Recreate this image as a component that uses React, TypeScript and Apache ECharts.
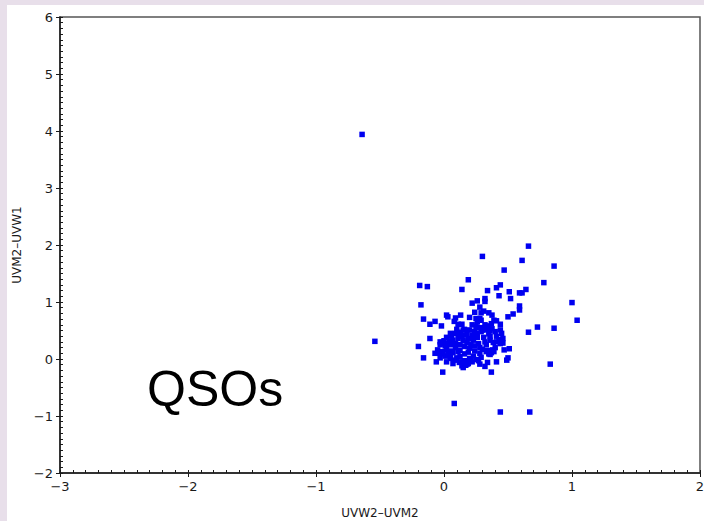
import React, { useEffect, useRef } from "react";
import * as echarts from "echarts";

const xMin = -3;
const xMax = 2;
const yMin = -2;
const yMax = 6;
const xName = "UVW2–UVM2";
const yName = "UVM2–UVW1";
const annotation = "QSOs";

const outlierPoints: [number, number][] = [
  [-0.64, 3.94], [-0.54, 0.31], [0.08, -0.78], [0.44, -0.93], [0.67, -0.93], [0.83, -0.09],
];

const upperPoints: [number, number][] = [
  [0.66, 1.98], [0.30, 1.80], [0.61, 1.73], [0.86, 1.63], [0.47, 1.56], [0.19, 1.39], [0.78, 1.34],
  [-0.19, 1.29], [-0.13, 1.27], [0.14, 1.22], [0.44, 1.30], [0.41, 1.25], [0.34, 1.20], [0.51, 1.18],
  [0.64, 1.22], [0.61, 1.16], [0.59, 1.16], [0.43, 1.11], [0.52, 1.06], [0.32, 1.06], [0.32, 1.01],
  [0.26, 1.02], [0.22, 0.98], [1.00, 0.99], [-0.18, 0.95], [0.59, 0.93], [0.59, 0.86], [0.28, 0.91],
  [0.24, 0.82], [0.31, 0.84], [0.29, 0.81], [0.35, 0.81], [0.54, 0.79], [0.50, 0.74], [0.02, 0.77],
  [0.03, 0.74], [0.13, 0.77], [0.20, 0.73], [-0.16, 0.70], [-0.07, 0.66], [0.09, 0.72], [0.08, 0.66],
  [0.25, 0.71], [0.28, 0.71], [0.26, 0.65], [0.29, 0.68], [0.375, 0.77], [0.39, 0.68], [0.41, 0.67],
  [1.04, 0.68], [-0.11, 0.61], [-0.02, 0.58], [0.11, 0.61], [0.14, 0.61], [0.22, 0.60], [0.25, 0.57],
  [0.35, 0.57], [0.375, 0.53], [0.44, 0.61], [0.73, 0.56], [0.86, 0.54], [0.66, 0.47],
];

const corePoints: [number, number][] = [
  [0.10, 0.52], [0.30, 0.51], [0.34, 0.53], [0.16, 0.52], [0.20, 0.51],
  [0.05, 0.45], [0.09, 0.45], [0.125, 0.47], [0.18, 0.45], [0.22, 0.42], [0.26, 0.45], [0.29, 0.48],
  [0.35, 0.44], [0.41, 0.40], [0.45, 0.45], [0.36, 0.50], [0.14, 0.39], [0.16, 0.42],
  [-0.11, 0.36], [0.02, 0.38], [-0.03, 0.30], [-0.01, 0.27], [0.07, 0.33], [0.11, 0.36], [0.15, 0.32],
  [0.19, 0.36], [0.23, 0.33], [0.27, 0.27], [0.31, 0.38], [0.36, 0.33], [0.385, 0.29], [0.46, 0.36],
  [0.44, 0.27],
  [-0.03, 0.25], [0.01, 0.23], [0.05, 0.25], [0.09, 0.20], [0.125, 0.25], [0.16, 0.22], [0.20, 0.19],
  [0.24, 0.23], [0.28, 0.20], [0.33, 0.25], [0.40, 0.20], [0.47, 0.16], [0.51, 0.18], [0.46, 0.28],
  [-0.07, 0.10], [-0.04, 0.10], [-0.01, 0.13], [0.03, 0.09], [0.07, 0.11], [0.11, 0.13], [0.16, 0.09],
  [0.19, 0.12], [0.23, 0.05], [0.28, 0.10], [0.33, 0.13], [0.35, 0.09], [0.37, 0.11],
  [-0.06, -0.05], [-0.03, 0.02], [0.05, 0.01], [0.09, -0.02], [0.125, 0.04], [0.16, -0.03], [0.20, 0.01],
  [0.255, -0.01], [0.29, 0.03], [0.34, -0.06], [0.41, -0.05], [0.50, 0.02], [0.49, -0.02],
  [-0.16, 0.02], [0.14, -0.12], [0.15, -0.15], [0.28, -0.09], [0.32, -0.13], [0.19, -0.08], [0.07, -0.08],
  [0.02, -0.05], [-0.01, -0.23], [0.37, -0.23], [-0.20, 0.22],
  [0.00, 0.32], [0.03, 0.27], [0.06, 0.40], [0.15, 0.51], [0.24, 0.48], [0.26, 0.38], [0.32, 0.60],
  [0.33, 0.51], [-0.05, 0.16], [-0.02, 0.09], [0.05, 0.05], [0.10, 0.02], [0.14, -0.05], [0.18, -0.09],
  [0.22, -0.05], [0.34, 0.15], [0.39, 0.13], [0.41, 0.30], [0.21, 0.26], [0.125, 0.15], [0.09, 0.27],
  [0.30, 0.17], [0.32, 0.30], [0.02, 0.17], [0.27, -0.03], [0.24, 0.14], [0.18, 0.29], [0.36, 0.40],
  [0.40, 0.48], [0.44, 0.51],
  [-0.02, 0.29], [0.04, 0.31], [0.33, 0.58], [0.37, 0.62], [0.31, 0.55], [0.36, 0.08], [0.38, 0.16],
  [0.12, -0.06], [0.17, -0.11], [0.21, -0.02], [0.23, 0.39], [0.13, 0.44], [0.27, 0.55], [0.43, 0.34],
  [0.06, 0.14], [0.01, 0.05],
];

export default function App() {
  const ref = useRef<HTMLDivElement>(null);

  useEffect(() => {
    document.body.style.margin = "0";
    const chart = echarts.init(ref.current as HTMLDivElement, null, { renderer: "svg" });
    const minus = (v: number) => String(v).replace("-", "\u2212");
    const font = "DejaVu Sans";
    const ink = "#1a1a1a";
    const labelStyle = { fontFamily: font, fontSize: 13, color: ink };

    const mainAxisBase = {
      type: "value",
      splitLine: { show: false },
      axisLine: { show: true, onZero: false, lineStyle: { color: ink, width: 1.5 } },
      axisTick: { show: true, inside: true, length: 3, lineStyle: { color: ink, width: 1 } },
      minorTick: { show: true, splitNumber: 10, length: 3, lineStyle: { color: ink, width: 1 } },
    };
    const outerTickBase = {
      type: "value",
      splitLine: { show: false },
      axisLine: { show: false, onZero: false },
      axisTick: { show: true, inside: false, length: 4, lineStyle: { color: ink, width: 1 } },
      axisLabel: { show: false },
    };

    chart.setOption({
      animation: false,
      grid: {
        left: 53, right: 4, top: 12, bottom: 48,
        containLabel: false,
        outerBoundsMode: "none",
        show: true, borderColor: "#555", borderWidth: 1.5, backgroundColor: "transparent",
      },
      xAxis: [
        {
          ...mainAxisBase, min: xMin, max: xMax, interval: 1, position: "bottom",
          axisLabel: { ...labelStyle, margin: 7, formatter: minus },
          name: xName, nameLocation: "middle", nameGap: 34,
          nameTextStyle: { fontFamily: font, fontSize: 12, color: ink },
        },
        { ...outerTickBase, min: xMin, max: xMax, interval: 1, position: "bottom" },
      ],
      yAxis: [
        {
          ...mainAxisBase, min: yMin, max: yMax, interval: 1, position: "left",
          axisLabel: { ...labelStyle, margin: 7, formatter: minus },
          name: yName, nameLocation: "middle", nameGap: 35,
          nameTextStyle: { fontFamily: font, fontSize: 12, color: ink },
        },
        { ...outerTickBase, min: yMin, max: yMax, interval: 1, position: "left" },
      ],
      graphic: [
        {
          type: "text",
          x: 140,
          y: 384,
          style: {
            text: annotation,
            fontFamily: "Liberation Sans",
            fontSize: 50,
            fill: "#000",
            verticalAlign: "middle",
            align: "left",
          },
        },
      ],
      series: [
        {
          type: "scatter",
          xAxisIndex: 0,
          yAxisIndex: 0,
          symbol: "rect",
          symbolSize: 5.5,
          itemStyle: { color: "#0000f0", opacity: 1 },
          data: [...outlierPoints, ...upperPoints, ...corePoints],
        },
      ],
    });
    return () => chart.dispose();
  }, []);

  return (
    <div style={{ position: "relative", width: 704, height: 521, background: "#e8dfea", overflow: "hidden" }}>
      <div
        ref={ref}
        style={{ position: "absolute", left: 7, top: 5, width: 697, height: 516, background: "#fff" }}
      />
    </div>
  );
}
